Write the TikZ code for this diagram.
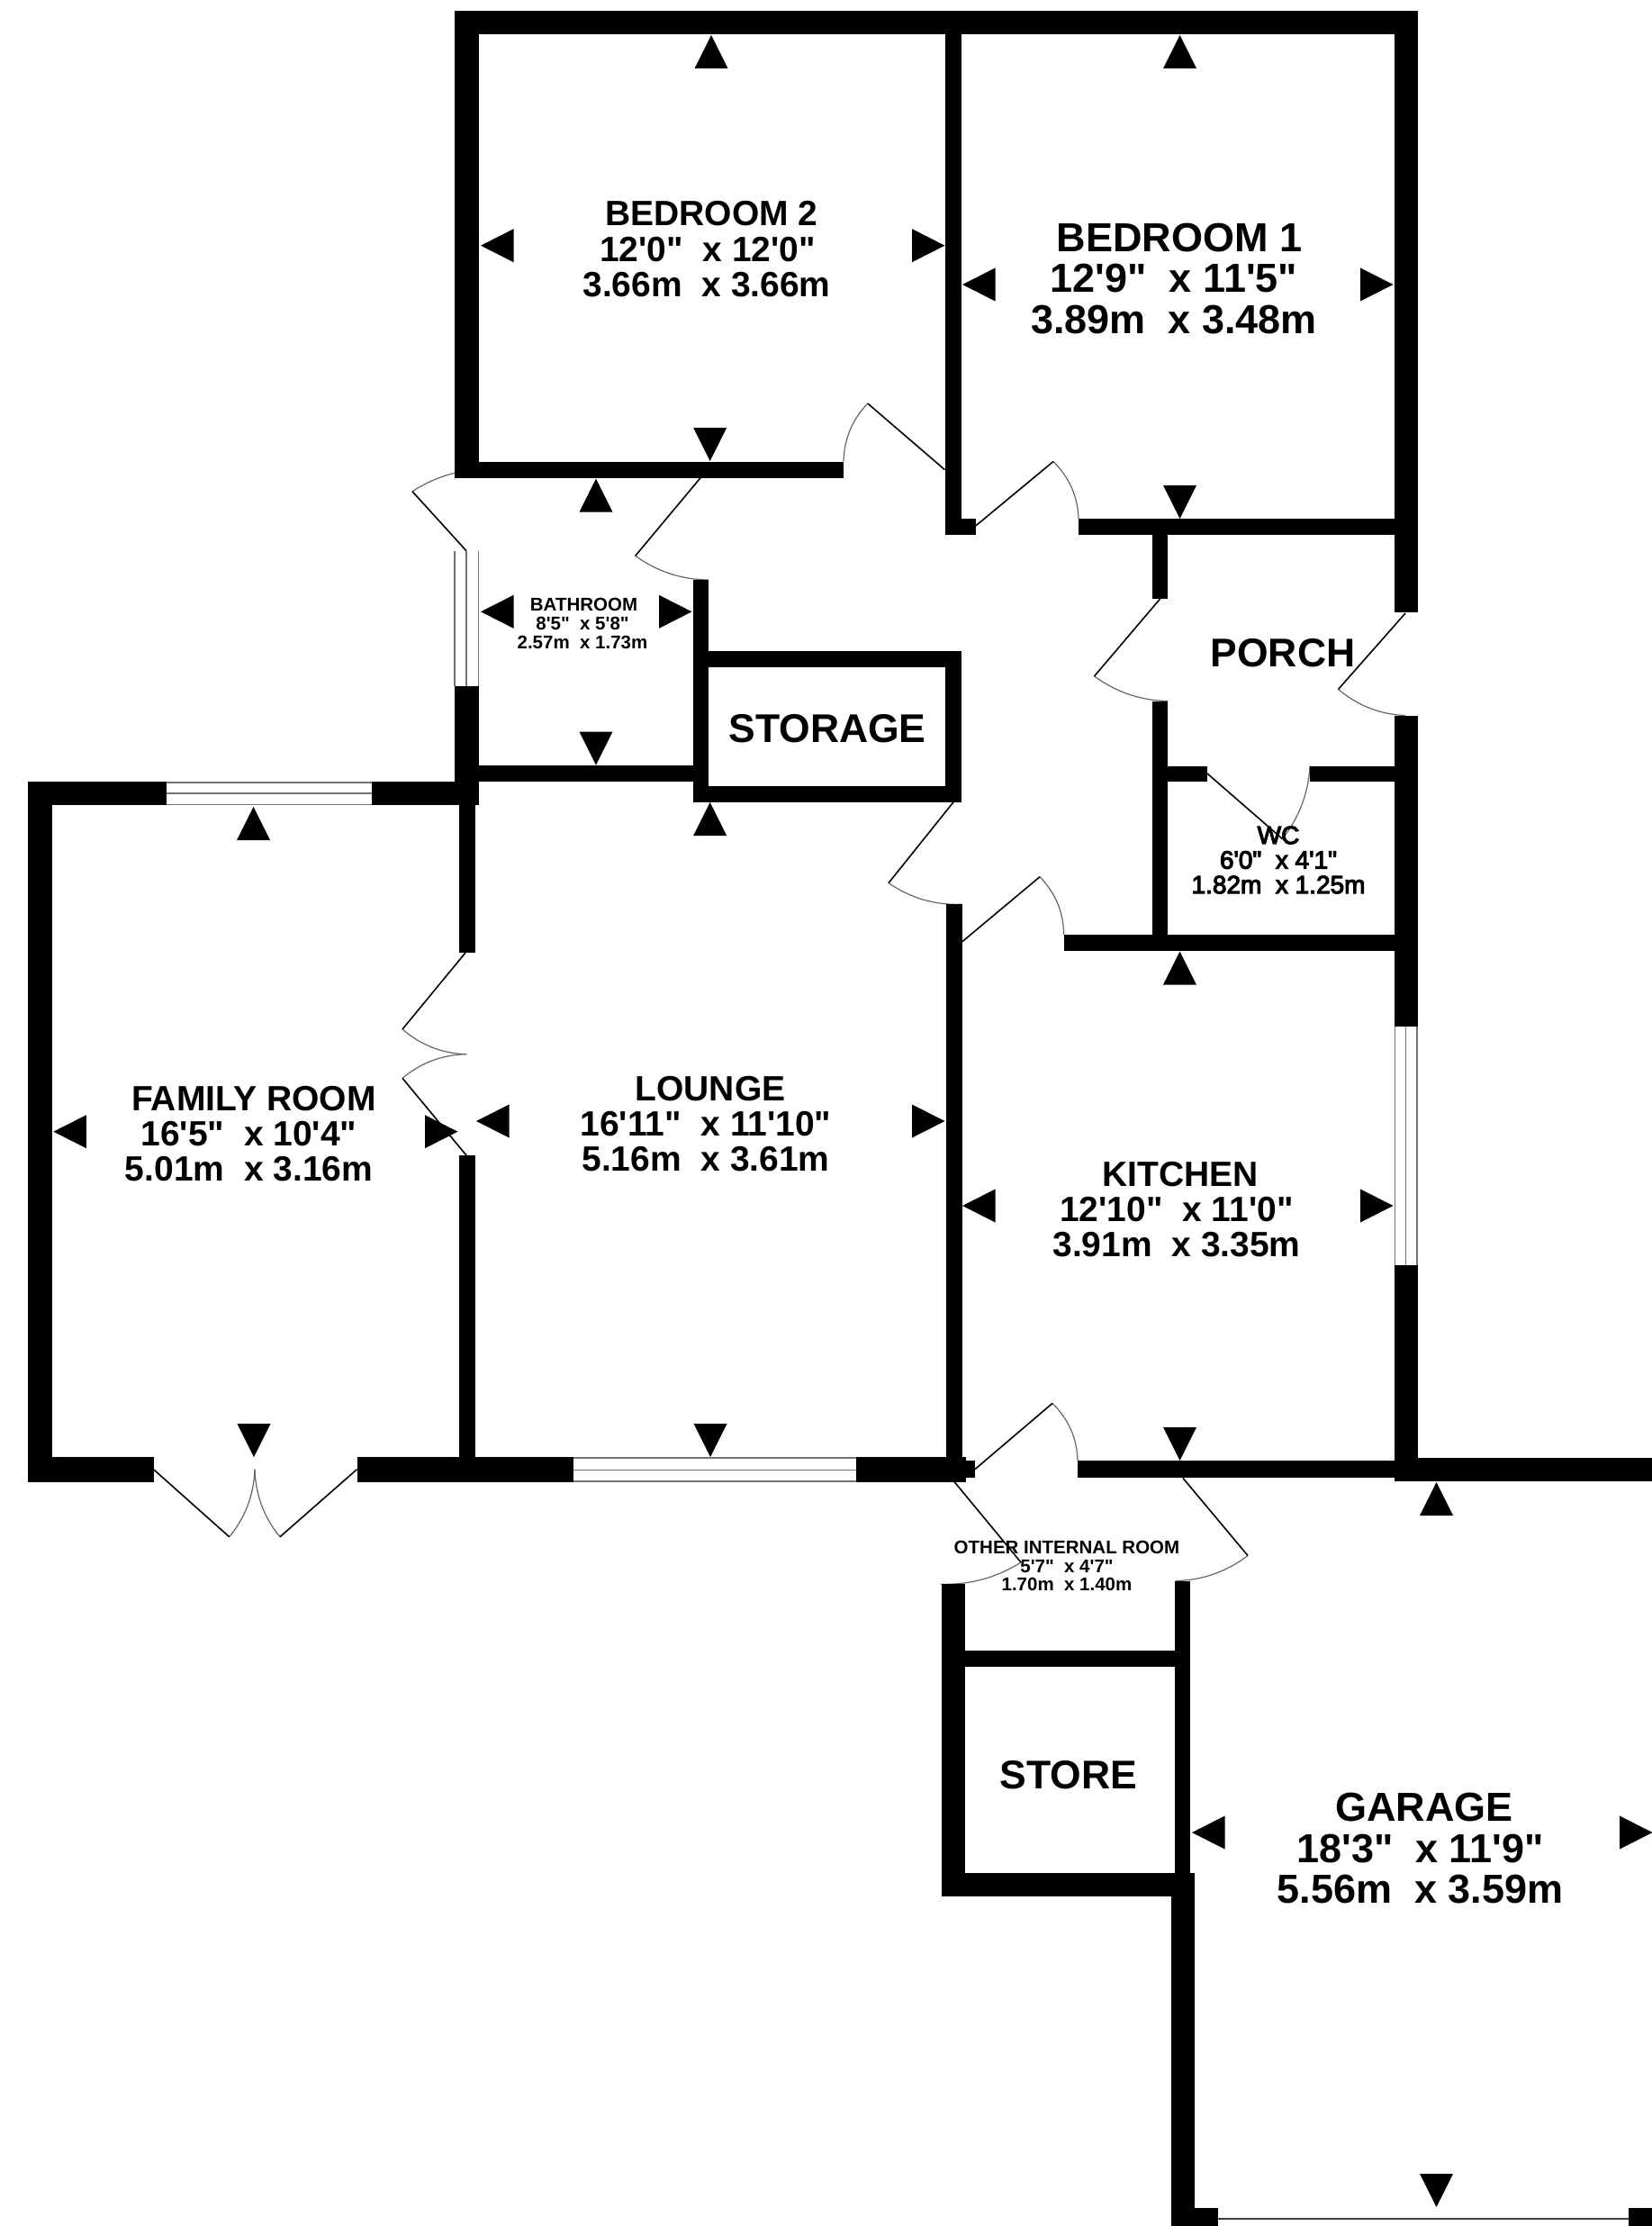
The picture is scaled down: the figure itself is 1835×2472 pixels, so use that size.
\documentclass[tikz,border=0pt]{standalone}
\usepackage{fontspec}
\usetikzlibrary{calc}
\newfontfamily\planfont[BoldFont=*-Bold]{Liberation Sans}
\newfontfamily\wcfont[FakeBold=4]{Liberation Sans}
\tikzset{
  x=1pt,y=-1pt,
  wall/.style={fill=black,draw=none},
  leaf/.style={draw=black,line width=1.6pt},
  swing/.style={draw=black!60,line width=1.2pt},
  pane/.style={draw=black!55,line width=1.6pt},
  marker/.style={fill=black,draw=none},
  roomtext/.style={align=center,inner sep=0pt,text=black}
}
\newcommand{\wl}[4]{\fill[wall] (#1,#2) rectangle (#3,#4);}
\newcommand{\door}[3]{\draw[swing] (#2) .. controls ($0.7094*(#2)+0.376*(#3)-0.0853*(#1)$) and ($0.376*(#2)+0.7094*(#3)-0.0853*(#1)$) .. (#3);\draw[leaf] (#1) -- (#2);}
\newcommand{\triU}[2]{\fill[marker] (#1,#2) -- ++(18.5,37) -- ++(-37,0) -- cycle;}
\newcommand{\triD}[2]{\fill[marker] (#1,#2) ++(-18.5,0) -- ++(37,0) -- ++(-18.5,37) -- cycle;}
\newcommand{\triL}[2]{\fill[marker] (#1,#2) -- ++(36.5,-18.5) -- ++(0,37) -- cycle;}
\newcommand{\triR}[2]{\fill[marker] (#1,#2) ++(0,-18.5) -- ++(36.5,18.5) -- ++(-36.5,18.5) -- cycle;}
\newcommand{\roomfs}[2]{\fontsize{#1}{#2}\selectfont\planfont\bfseries}
\newcommand{\nudge}[1]{\hspace*{#1pt}}
\begin{document}
\begin{tikzpicture}
\useasboundingbox (0,0) rectangle (1835,2472);
\fill[white] (0,0) rectangle (1835,2472);
% door swings
\door{1049.5,521.7}{963.8,448}{937,512.7}
\door{518,611.7}{458,545.7}{533,521}
\door{778,530.7}{705.7,617.3}{787,644}
\door{1083.7,584}{1170,512.5}{1198,576.4}
\door{1288.6,665}{1215.5,751}{1297,778.5}
\door{1561,681}{1486.5,765.5}{1561,794.6}
\door{1341,859}{1424.5,931.6}{1455,850.5}
\door{1068,1046.4}{1155,973.7}{1181.6,1038}
\door{1059.6,890}{987,980.6}{1068,1004.3}
\door{517,1058}{447,1143}{518,1170.7}
\door{518,1283}{447,1197.3}{518,1170.7}
\door{170.5,1631.7}{254.7,1706.7}{283,1631.7}
\door{396.5,1631.7}{311,1706.7}{283,1631.7}
\door{1082.5,1632}{1169,1558.4}{1197,1622}
\door{1059.6,1645}{1134,1735}{1045,1759.3}
\door{1314,1641.4}{1386,1727.5}{1306,1755.5}
% walls
\wl{505}{12}{1574.6}{38}
\wl{505}{12}{531.6}{530.7}
\wl{505}{512.7}{937}{530.7}
\wl{1050}{12}{1068}{594}
\wl{1050}{576.4}{1083.7}{594}
\wl{1198}{576.4}{1549}{594}
\wl{1549}{12}{1574.6}{680}
\wl{1279.6}{594}{1297}{665}
\wl{1279.6}{778.5}{1297}{1056}
\wl{1549}{794.6}{1574.6}{1140}
\wl{1549}{1405}{1574.6}{1645}
\wl{1297}{850.5}{1341}{867.7}
\wl{1455}{850.5}{1549}{867.7}
\wl{1181.6}{1038}{1549}{1056}
\wl{505}{762}{531.6}{893.3}
\wl{769.5}{644}{787}{890.7}
\wl{787}{723.3}{1068}{740.7}
\wl{1050}{723.3}{1068}{890.7}
\wl{769.5}{872.7}{1068}{890.7}
\wl{531}{850}{770}{868.3}
\wl{31}{868.3}{185}{894.3}
\wl{413}{868.3}{531.6}{894.3}
\wl{31}{868.3}{58}{1645.7}
\wl{510}{894}{527.7}{1058.3}
\wl{510}{1283.3}{527.7}{1620}
\wl{1051}{1004.3}{1069}{1620}
\wl{31}{1618}{170.5}{1645.7}
\wl{396.5}{1618}{637}{1645.7}
\wl{951}{1618}{1073}{1645.7}
\wl{1050}{1622}{1083}{1641.4}
\wl{1197}{1622}{1549}{1641.4}
\wl{1548.5}{1619}{1835}{1645}
\wl{1046.3}{1759.3}{1072}{2106.4}
\wl{1305}{1755.5}{1322}{2080}
\wl{1072}{1832.8}{1305}{1850.8}
\wl{1046.3}{2079.6}{1326}{2106.4}
\wl{1300.5}{2079.6}{1326.5}{2472}
\wl{1300.5}{2451.7}{1352.6}{2472}
\wl{1808.6}{2451.7}{1835}{2472}
% windows
\draw[pane] (505,611.7) -- (505,762) (518,611.7) -- (518,762) (531.6,611.7) -- (531.6,762);
\draw[pane] (185,869) -- (413,869) (185,881) -- (413,881) (185,893.5) -- (413,893.5);
\draw[pane] (637,1619) -- (951,1619) (637,1632.3) -- (951,1632.3) (637,1645) -- (951,1645);
\draw[pane] (1549.5,1140) -- (1549.5,1405) (1561.5,1140) -- (1561.5,1405) (1574,1140) -- (1574,1405);
\draw[pane,draw=black!75] (1352.6,2464) -- (1808.6,2464);
% markers
\triU{790}{39}\triU{1310.5}{39}
\triL{534}{272.7}\triR{1013}{272.7}
\triD{788.7}{475}
\triL{1069}{316}\triR{1511}{316}
\triD{1310.5}{539}
\triU{662}{531.7}\triL{534}{679.3}\triR{732}{679.3}\triD{662}{812.7}
\triU{788.7}{891}
\triU{281.5}{896}\triL{59.4}{1256.7}\triR{472}{1256.7}\triD{282}{1581}
\triL{529}{1245}\triR{1013}{1245}\triD{789}{1581}
\triU{1310.5}{1056.7}\triL{1069}{1339}\triR{1511}{1339}\triD{1310.5}{1585}
\triU{1595.5}{1646}\triL{1324}{2035}\triR{1799}{2035}\triD{1595.5}{2414}
% labels
\node[roomtext,font=\roomfs{39}{39.5}] (bed2) at (785,277) {\nudge{11}BEDROOM 2\\\nudge{2}12'0"\ \ x 12'0"\\3.66m\ \ x 3.66m};
\node[roomtext,font=\roomfs{45}{45.5}] (bed1) at (1304,309.5) {\nudge{12}BEDROOM 1\\12'9"\ \ x 11'5"\\3.89m\ \ x 3.48m};
\node[roomtext,font=\roomfs{20.5}{21}] (bath) at (647,692) {\nudge{3}BATHROOM\\8'5"\ \ x 5'8"\\2.57m\ \ x 1.73m};
\node[roomtext,font=\roomfs{44.5}{45}] (storage) at (919,809) {STORAGE};
\node[roomtext,font=\roomfs{44.5}{45}] (porch) at (1425,725) {PORCH};
\node[roomtext,font={\fontsize{28}{27.5}\selectfont\wcfont}] (wc) at (1420,955) {WC\\6'0"\ \ x 4'1"\\1.82m\ \ x 1.25m};
\node[roomtext,font=\roomfs{39}{39}] (family) at (276.5,1259) {\nudge{11}FAMILY ROOM\\16'5"\ \ x 10'4"\\5.01m\ \ x 3.16m};
\node[roomtext,font=\roomfs{39}{39}] (lounge) at (784,1248.5) {\nudge{10}LOUNGE\\16'11"\ \ x 11'10"\\5.16m\ \ x 3.61m};
\node[roomtext,font=\roomfs{39}{39}] (kitchen) at (1307,1343.5) {\nudge{8}KITCHEN\\12'10"\ \ x 11'0"\\3.91m\ \ x 3.35m};
\node[roomtext,font=\roomfs{20.5}{20.5}] (other) at (1185,1739) {OTHER INTERNAL ROOM\\5'7"\ \ x 4'7"\\1.70m\ \ x 1.40m};
\node[roomtext,font=\roomfs{44.5}{45}] (store) at (1187,1971) {STORE};
\node[roomtext,font=\roomfs{45}{45.5}] (garage) at (1577.5,2053) {\nudge{9}GARAGE\\18'3"\ \ x 11'9"\\5.56m\ \ x 3.59m};
\end{tikzpicture}
\end{document}
